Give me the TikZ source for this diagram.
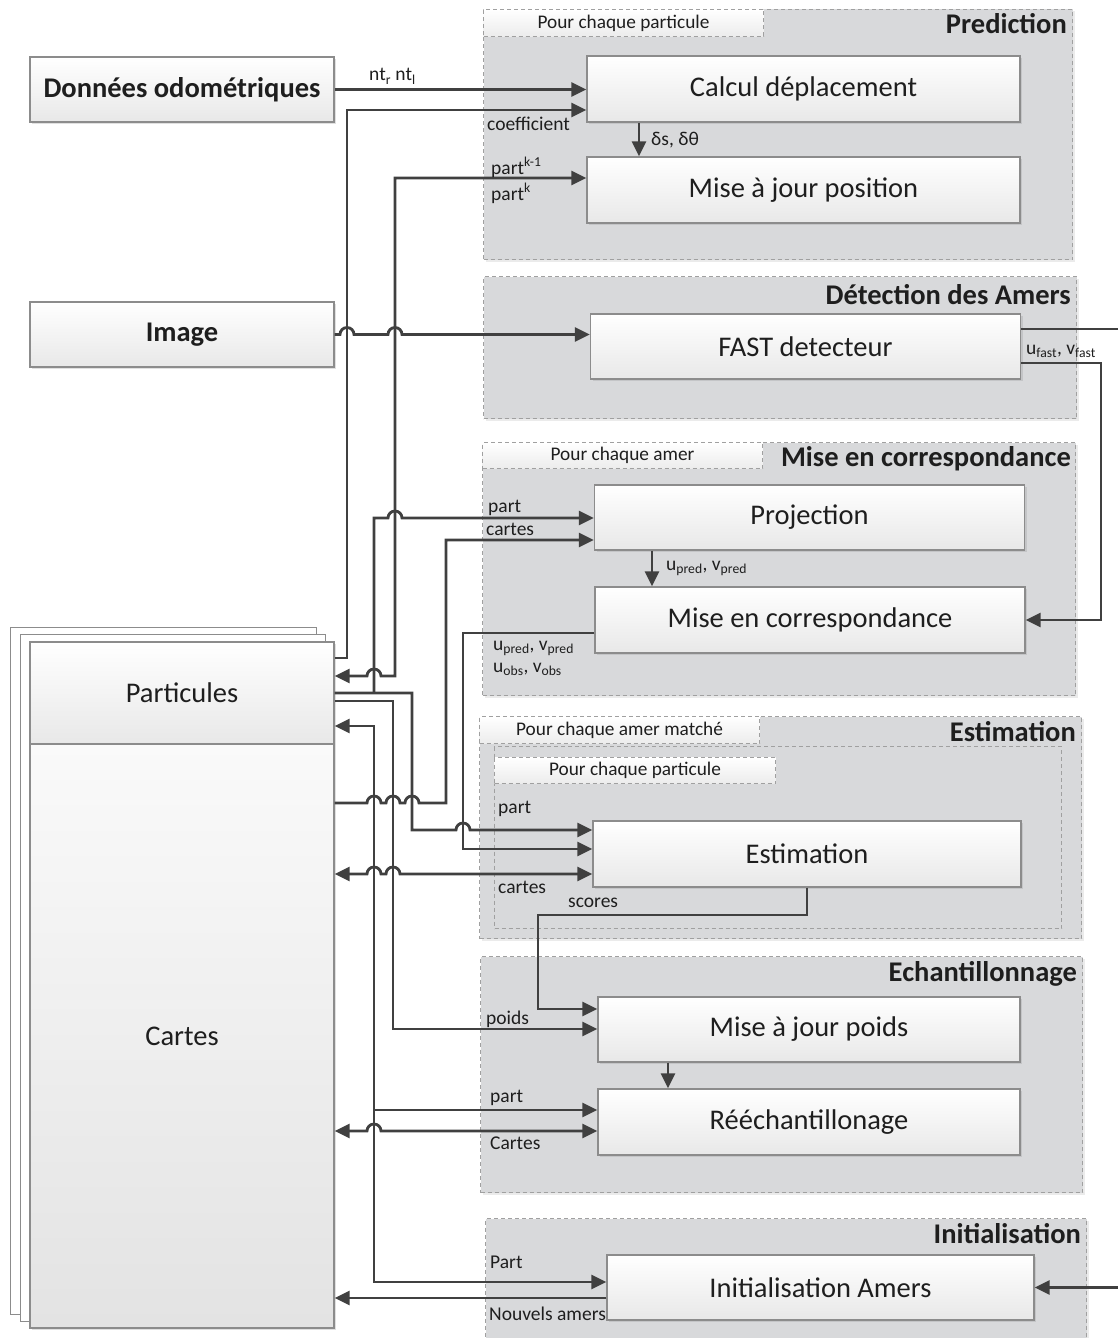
\documentclass[tikz,border=0pt]{standalone}
\usepackage{fontspec}
\setmainfont{Carlito}
\usepackage{tikz}
\usetikzlibrary{arrows.meta,shadows}
\definecolor{linecol}{RGB}{64,64,64}
\definecolor{groupfill}{RGB}{216,217,219}
\definecolor{groupdraw}{RGB}{160,160,160}
\definecolor{boxdraw}{RGB}{140,140,140}
\definecolor{boxgray}{RGB}{232,232,232}
\definecolor{tabgray}{RGB}{236,236,236}
\definecolor{textcol}{RGB}{30,30,30}

\begin{document}
\begin{tikzpicture}[x=1pt, y=-1pt,
    box/.style={draw=boxdraw, line width=1.3pt, top color=white, bottom color=boxgray,
                minimum width=430pt, minimum height=66pt, inner sep=0pt,
                font=\fontsize{28.5}{33}\selectfont, text=textcol,
                drop shadow={shadow xshift=2pt, shadow yshift=-2pt, fill=black!40, opacity=.3}},
    inbox/.style={box, minimum width=304pt, minimum height=65pt,
                  font=\bfseries\fontsize{28.5}{33}\selectfont},
    sheet/.style={draw=boxdraw, line width=1pt, fill=white},
    group/.style={draw=groupdraw, fill=groupfill, line width=1pt, dash pattern=on 4pt off 3pt,
                  inner sep=0pt, anchor=north west,
                  drop shadow={shadow xshift=2pt, shadow yshift=-2pt, fill=black!40, opacity=.2}},
    subgroup/.style={draw=groupdraw, line width=1pt, dash pattern=on 4pt off 3pt,
                     inner sep=0pt, anchor=north west},
    tab/.style={draw=groupdraw, line width=1pt, dash pattern=on 4pt off 3pt,
                top color=white, bottom color=tabgray, inner sep=0pt, anchor=north west,
                minimum width=280pt, minimum height=27pt,
                font=\fontsize{19.3}{23}\selectfont, text=textcol},
    titre/.style={font=\bfseries\fontsize{28.5}{33}\selectfont, text=textcol,
                  anchor=base east, inner sep=0pt},
    lbl/.style={font=\fontsize{19.5}{23}\selectfont, text=textcol, anchor=base west, inner sep=0pt},
    arr/.style={-{Triangle[length=15pt,width=14pt]}, line width=2.8pt, draw=linecol},
    darr/.style={arr, {Triangle[length=15pt,width=14pt]}-{Triangle[length=15pt,width=14pt]}},
    ligne/.style={line width=2.8pt, draw=linecol}
]

\useasboundingbox (0,0) rectangle (1118,1338);
\clip (0,0) rectangle (1118,1338);

% groupes
\node[group, minimum width=589pt, minimum height=250pt] (gpred) at (483,9) {};
\node[group, minimum width=593pt, minimum height=142pt] (gdet) at (483,276) {};
\node[group, minimum width=593pt, minimum height=253pt] (gmec) at (482,442) {};
\node[group, minimum width=602pt, minimum height=222pt] (gest) at (479,716) {};
\node[subgroup, minimum width=567pt, minimum height=182pt] (gestin) at (494,746) {};
\node[group, minimum width=602pt, minimum height=236pt] (gech) at (480,956) {};
\node[group, minimum width=601pt, minimum height=140pt] (ginit) at (485,1218) {};

\node[tab] (tpred) at (483,9) {Pour chaque particule};
\node[tab, minimum height=26pt] (tmec) at (482,442) {Pour chaque amer};
\node[tab] (test) at (479,716) {Pour chaque amer matché};
\node[tab, minimum width=281pt, minimum height=26pt] (testin) at (494,757) {Pour chaque particule};

\node[titre] (hpred) at (1067,34) {Prediction};
\node[titre] (hdet) at (1071,304) {Détection des Amers};
\node[titre] (hmec) at (1071,466) {Mise en correspondance};
\node[titre] (hest) at (1076,741) {Estimation};
\node[titre] (hech) at (1077,981) {Echantillonnage};
\node[titre] (hinit) at (1081,1243) {Initialisation};

% entrees et memoire
\node[inbox] (odo) at (182,89.5) {Données odométriques};
\node[inbox] (img) at (182,334.5) {Image};

\draw[sheet] (10,627) rectangle (316,1314);
\draw[sheet] (20,634) rectangle (325,1321);
\node[box, minimum width=304pt, minimum height=102pt, drop shadow={shadow xshift=0pt, shadow yshift=0pt, opacity=0}] (partic) at (182,693) {Particules};
\node[box, minimum width=304pt, minimum height=584pt, top color=black!2, bottom color=black!11] (cartes) at (182,1036) {Cartes};

% blocs
\node[box, minimum width=433pt] (calc) at (803.5,89) {Calcul déplacement};
\node[box, minimum width=433pt] (majpos) at (803.5,190) {Mise à jour position};
\node[box, minimum height=65pt] (fast) at (805.5,346.5) {FAST detecteur};
\node[box, minimum height=65pt] (proj) at (809.5,517.5) {Projection};
\node[box] (mec) at (810,620) {Mise en correspondance};
\node[box, minimum width=428pt] (est) at (807,854) {Estimation};
\node[box, minimum width=422pt, minimum height=65pt] (majpoids) at (809,1029.5) {Mise à jour poids};
\node[box, minimum width=422pt] (reech) at (809,1122) {Rééchantillonage};
\node[box, minimum width=427pt, minimum height=65pt] (init) at (820.5,1287.5) {Initialisation Amers};

\coordinate (fastout) at (1118,329);
\coordinate (initin) at (1118,1287.5);

% liaisons
\draw[arr] (odo.east) -- (calc.west |- odo.east);
\draw[arr] (partic.east |- 0,658) -- (347,658) -- (347,110) -- (calc.west |- 0,110);
\draw[darr] (majpos.west |- 0,178) -- (395,178) -- (395,676) -- (381,676)
    arc (0:180:7pt) -- (partic.east |- 0,676);
\draw[arr] (calc.south -| 639,0) -- (majpos.north -| 639,0);
\draw[arr] (img.east) -- (340,334.5) arc (180:0:7pt) -- (388,334.5) arc (180:0:7pt)
    -- (fast.west |- img.east);
\draw[ligne] (fast.east |- 0,329) -- (fastout);
\draw[arr] (fast.east |- 0,363) -- (1101,363) -- (1101,620) -- (mec.east);

\draw[arr] (partic.east |- 0,693) -- (412,693) -- (412,830) -- (456,830) arc (180:0:7pt)
    -- (est.west |- 0,830);
\draw[arr] (374,693) -- (374,518) -- (388,518) arc (180:0:7pt) -- (proj.west |- 0,518);
\draw[arr] (cartes.east |- 0,803) -- (367,803) arc (180:0:7pt) -- (386,803) arc (180:0:7pt)
    -- (405,803) arc (180:0:7pt) -- (446,803) -- (446,540) -- (proj.west |- 0,540);
\draw[arr] (proj.south -| 652,0) -- (mec.north -| 652,0);
\draw[arr] (mec.west |- 0,633) -- (463,633) -- (463,849) -- (est.west |- 0,849);
\draw[darr] (cartes.east |- 0,874) -- (367,874) arc (180:0:7pt) -- (386,874) arc (180:0:7pt)
    -- (est.west |- 0,874);

\draw[arr] (partic.east |- 0,701) -- (393,701) -- (393,1029) -- (majpoids.west |- 0,1029);
\draw[arr] (est.south) -- (807,915) -- (538,915) -- (538,1009) -- (majpoids.west |- 0,1009);
\draw[arr] (majpoids.south -| 668,0) -- (reech.north -| 668,0);
\draw[darr] (partic.east |- 0,726) -- (374,726) -- (374,1110) -- (reech.west |- 0,1110);
\draw[arr] (374,1110) -- (374,1282) -- (init.west |- 0,1282);
\draw[darr] (cartes.east |- 0,1131) -- (367,1131) arc (180:0:7pt) -- (reech.west |- 0,1131);
\draw[arr] (init.west |- 0,1298) -- (cartes.east |- 0,1298);
\draw[arr] (initin) -- (init.east);

% etiquettes
\node[lbl] (lnt) at (369,81) {nt\textsubscript{r} nt\textsubscript{l}};
\node[lbl] (lcoef) at (487,130) {coefficient};
\node[lbl] (lds) at (651,145) {δs, δθ};
\node[lbl] (lpk1) at (491,174) {part\textsuperscript{k-1}};
\node[lbl] (lpk) at (491,200) {part\textsuperscript{k}};
\node[lbl] (lfast) at (1026,354) {u\textsubscript{fast}, v\textsubscript{fast}};
\node[lbl] (lppart) at (488,512) {part};
\node[lbl] (lpcart) at (486,535) {cartes};
\node[lbl] (lupred) at (666,570) {u\textsubscript{pred}, v\textsubscript{pred}};
\node[lbl] (lmpred) at (493,650) {u\textsubscript{pred}, v\textsubscript{pred}};
\node[lbl] (lmobs) at (493,672) {u\textsubscript{obs}, v\textsubscript{obs}};
\node[lbl] (lepart) at (498,813) {part};
\node[lbl] (lecart) at (498,893) {cartes};
\node[lbl] (lscores) at (568,907) {scores};
\node[lbl] (lpoids) at (486,1024) {poids};
\node[lbl] (lrpart) at (490,1102) {part};
\node[lbl] (lrcart) at (490,1149) {Cartes};
\node[lbl] (lipart) at (490,1268) {Part};
\node[lbl] (linouv) at (489,1320) {Nouvels amers};

\end{tikzpicture}
\end{document}
